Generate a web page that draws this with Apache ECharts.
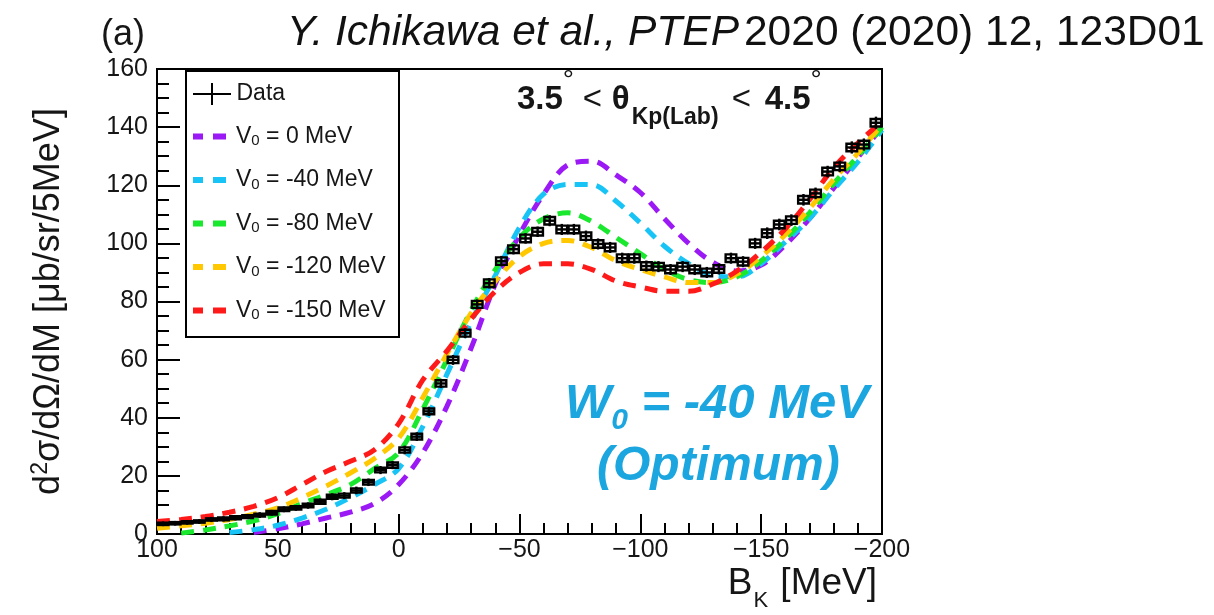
<!DOCTYPE html>
<html>
<head>
<meta charset="utf-8">
<script src="https://cdn.jsdelivr.net/npm/echarts@6/dist/echarts.min.js"></script>
<style>
html, body { margin: 0; padding: 0; background: #fff; }
#chart { width: 1214px; height: 615px; }
</style>
</head>
<body>
<div id="chart"></div>
<script>
// Measured spectrum: 5 MeV bins of the binding energy B_K
const binB = [97.5, 92.5, 87.5, 82.5, 77.5, 72.5, 67.5, 62.5, 57.5, 52.5,
  47.5, 42.5, 37.5, 32.5, 27.5, 22.5, 17.5, 12.5, 7.5, 2.5,
  -2.5, -7.5, -12.5, -17.5, -22.5, -27.5, -32.5, -37.5, -42.5, -47.5,
  -52.5, -57.5, -62.5, -67.5, -72.5, -77.5, -82.5, -87.5, -92.5, -97.5,
  -102.5, -107.5, -112.5, -117.5, -122.5, -127.5, -132.5, -137.5, -142.5, -147.5,
  -152.5, -157.5, -162.5, -167.5, -172.5, -177.5, -182.5, -187.5, -192.5, -197.5];
const measured = [3.5, 3.7, 4.0, 4.3, 5.0, 5.2, 5.6, 6.0, 6.5, 7.3,
  8.5, 9.0, 9.8, 11.1, 12.8, 13.2, 15.0, 17.8, 22.0, 23.7,
  28.9, 33.5, 42.2, 51.8, 59.9, 69.1, 79.0, 86.3, 93.9, 98.0,
  101.7, 104.0, 107.8, 104.8, 104.8, 102.5, 99.8, 98.6, 94.9, 94.9,
  92.2, 92.0, 91.0, 92.0, 91.0, 90.0, 91.2, 94.9, 93.7, 100.0,
  103.5, 106.5, 108.0, 115.0, 117.2, 124.7, 126.5, 133.0, 134.0, 141.5];
const statErr = [0.8, 0.8, 0.8, 0.8, 0.9, 0.9, 0.9, 0.9, 1.0, 1.0,
  1.0, 1.0, 1.1, 1.1, 1.2, 1.2, 1.3, 1.3, 1.4, 1.4,
  1.5, 1.5, 1.6, 1.6, 1.7, 1.7, 1.7, 1.8, 1.8, 1.8,
  1.8, 1.8, 1.9, 1.9, 1.9, 1.9, 1.9, 1.9, 1.9, 1.9,
  1.9, 1.9, 1.9, 1.9, 1.9, 1.9, 1.9, 1.9, 1.9, 1.9,
  2.0, 2.0, 2.0, 2.0, 2.0, 2.0, 2.0, 2.1, 2.1, 2.1];
const sysErr = [0.4, 0.4, 0.4, 0.4, 0.4, 0.5, 0.5, 0.5, 0.5, 0.6,
  0.6, 0.6, 0.6, 0.7, 0.7, 0.7, 0.7, 0.8, 0.8, 0.9,
  0.9, 1.0, 1.0, 1.1, 1.1, 1.2, 1.2, 1.3, 1.3, 1.3,
  1.3, 1.3, 1.3, 1.3, 1.3, 1.3, 1.3, 1.3, 1.3, 1.3,
  1.3, 1.3, 1.3, 1.3, 1.3, 1.3, 1.3, 1.3, 1.3, 1.3,
  1.3, 1.3, 1.3, 1.3, 1.3, 1.3, 1.3, 1.3, 1.3, 1.3];

// Calculated spectra for several real potential depths V0
// (null where a spectrum has not yet risen above the axis)
const calcB = [100, 90, 80, 70, 60, 50, 40, 30, 20, 10, 0,
  -10, -20, -30, -40, -50, -60, -70, -80, -90, -100,
  -110, -120, -130, -140, -150, -160, -170, -180, -190, -200];
const specV0m0 = [null, null, null, null, 0.5, 1.8, 3.5, 5.5, 7.5, 10.5, 17,
  28, 44, 64, 86, 103, 117, 127, 128.3, 123.5, 117.5,
  108.5, 100, 93.5, 90.5, 92.5, 99.5, 108.5, 119, 129.5, 140];
const specV0m40 = [null, null, null, 0.5, 1.5, 3.0, 5.5, 8.5, 12.5, 17, 22.5,
  37, 55, 73, 89, 105.5, 117, 120.3, 120.2, 114.5, 107,
  99, 93, 89, 88.5, 93, 100.5, 108.5, 118.5, 128, 139];
const specV0m80 = [null, 0.3, 1.4, 2.8, 4.5, 7.0, 10.5, 13.5, 17, 22.5, 28,
  43, 60, 77, 91, 102, 108.5, 110.5, 107.5, 102, 96.5,
  91, 87.5, 86.5, 88.5, 94, 101.5, 110.5, 120.5, 130, 140];
const specV0m120 = [2.0, 2.8, 3.7, 5.0, 6.8, 9.0, 12.5, 16.5, 21, 26, 33,
  47, 62, 76, 87, 95.5, 100, 101, 98.5, 94, 91,
  88.5, 86.5, 86.5, 89.5, 95.5, 103, 112, 122, 131, 141];
const specV0m150 = [4.3, 5.0, 6.0, 7.5, 9.5, 12.5, 17, 21.5, 25, 29, 38,
  53, 63, 74, 83.5, 90, 93, 93, 91, 87, 85,
  83.5, 83.5, 86, 90.5, 97, 105, 115, 126, 134.5, 142];

const curveNames = ['V0 = 0 MeV', 'V0 = -40 MeV', 'V0 = -80 MeV', 'V0 = -120 MeV', 'V0 = -150 MeV'];
const curveValues = [specV0m0, specV0m40, specV0m80, specV0m120, specV0m150];
const curveColors = ['#9b19f5', '#18c4f5', '#1ae82e', '#ffc800', '#ff1a1a'];

const FONT = 'Liberation Sans';
const INK = '#161616';

const dataPoints = binB.map((b, i) => [b, measured[i], statErr[i], sysErr[i]]);

const lineSeries = curveNames.map((name, k) => ({
  name: name,
  type: 'line',
  data: calcB.map((b, i) => [b, curveValues[k][i]]),
  smooth: 0.35,
  connectNulls: false,
  symbol: 'none',
  showSymbol: false,
  clip: true,
  silent: true,
  z: 2,
  itemStyle: { color: curveColors[k] },
  lineStyle: { color: curveColors[k], width: 5, type: [13, 9], cap: 'butt' }
}));

// Data points: horizontal bin bar, vertical statistical bar, open systematic box
const dataSeries = {
  name: 'Data',
  type: 'custom',
  data: dataPoints,
  encode: { x: 0, y: 1 },
  clip: true,
  z: 5,
  silent: true,
  itemStyle: { color: '#000' },
  renderItem: function (params, api) {
    const b = api.value(0), v = api.value(1), st = api.value(2), sy = api.value(3);
    const c = api.coord([b, v]);
    const xl = api.coord([b + 2.5, v])[0];
    const xr = api.coord([b - 2.5, v])[0];
    const yt = api.coord([b, v + st])[1];
    const yb = api.coord([b, v - st])[1];
    const bx1 = api.coord([b + 2.2, v + sy]);
    const bx2 = api.coord([b - 2.2, v - sy]);
    const stroke = { stroke: '#000', lineWidth: 2.4, fill: null };
    return {
      type: 'group',
      children: [
        { type: 'rect', shape: { x: Math.min(bx1[0], bx2[0]), y: bx1[1], width: Math.abs(bx2[0] - bx1[0]), height: bx2[1] - bx1[1] }, style: { stroke: '#000', lineWidth: 2.4, fill: 'rgba(0,0,0,0)' } },
        { type: 'line', shape: { x1: Math.min(xl, xr), y1: c[1], x2: Math.max(xl, xr), y2: c[1] }, style: stroke },
        { type: 'line', shape: { x1: c[0], y1: yt, x2: c[0], y2: yb }, style: stroke }
      ]
    };
  }
};

const legendRich = {
  v: { fontSize: 23, fontFamily: FONT, color: INK, lineHeight: 24 },
  s: { fontSize: 15, fontFamily: FONT, color: INK, lineHeight: 10, verticalAlign: 'bottom' },
  t: { fontSize: 23, fontFamily: FONT, color: INK, lineHeight: 24 },
  p: { width: 5 }
};

const chart = echarts.init(document.getElementById('chart'), null, { renderer: 'canvas' });
chart.setOption({
  animation: false,
  backgroundColor: '#fff',
  title: [
    { text: '(a)', left: 101, top: 17, padding: 0,
      textStyle: { fontFamily: FONT, fontSize: 36, fontWeight: 'normal', color: INK } },
    { text: '{i|Y. Ichikawa et al., PTEP} {n|2020 (2020) 12, 123D01}', left: 287, top: 12, padding: 0,
      textStyle: { fontWeight: 'normal', rich: {
        i: { fontFamily: FONT, fontSize: 42.5, fontStyle: 'italic', fontWeight: 'normal', color: '#111' },
        n: { fontFamily: FONT, fontSize: 42.5, fontWeight: 'normal', color: '#111' } } } },
    { text: '{n|3.5}{d|°}{l|<}{n|θ}{s|Kp(Lab)}{m|<}{n|4.5}{d|°}', left: 517, top: 64, padding: 0,
      textStyle: { fontWeight: 'normal', rich: {
        n: { fontFamily: FONT, fontSize: 33, fontWeight: 'bold', color: INK, lineHeight: 33, verticalAlign: 'top', padding: [19, 0, 0, 0] },
        d: { fontFamily: FONT, fontSize: 28, fontWeight: 'normal', color: INK, lineHeight: 28, verticalAlign: 'top', padding: [3, 0, 0, 0], width: 20 },
        l: { fontFamily: FONT, fontSize: 33, fontWeight: 'normal', color: INK, lineHeight: 33, verticalAlign: 'top', padding: [19, 0, 0, 0], width: 29 },
        m: { fontFamily: FONT, fontSize: 33, fontWeight: 'normal', color: INK, lineHeight: 33, verticalAlign: 'top', padding: [19, 0, 0, 0], width: 33 },
        s: { fontFamily: FONT, fontSize: 23, fontWeight: 'bold', color: INK, lineHeight: 23, verticalAlign: 'top', padding: [42, 0, 0, 2], width: 100 } } } },
    { text: '{w|W}{s|0}{w| = -40 MeV}', left: 565, top: 380, padding: 0,
      textStyle: { rich: {
        w: { fontFamily: FONT, fontSize: 49, fontWeight: 'bold', fontStyle: 'italic', color: '#1ba6e0', lineHeight: 50, verticalAlign: 'top' },
        s: { fontFamily: FONT, fontSize: 30, fontWeight: 'bold', fontStyle: 'italic', color: '#1ba6e0', lineHeight: 30, verticalAlign: 'top', padding: [26, 0, 0, 0] } } } },
    { text: '(Optimum)', left: 597, top: 443, padding: 0,
      textStyle: { fontFamily: FONT, fontSize: 48, fontWeight: 'bold', fontStyle: 'italic', color: '#1ba6e0' } },
    { text: '{a|B}{s|K}{a| [MeV]}', right: 337, top: 565, padding: 0,
      textStyle: { fontWeight: 'normal', rich: {
        a: { fontFamily: FONT, fontSize: 37, fontWeight: 'normal', color: INK, lineHeight: 38, verticalAlign: 'top' },
        s: { fontFamily: FONT, fontSize: 22, fontWeight: 'normal', color: INK, lineHeight: 22, verticalAlign: 'top', padding: [25, 2, 0, 1] } } } }
  ],
  grid: { left: 157, right: 332, top: 69, bottom: 81, show: true, borderColor: '#000', borderWidth: 2 },
  legend: [
    { data: [{ name: 'Data', icon: 'path://M0,10h38v2h-38z M18,0h2v22h-2z' }],
      left: 193, top: 82, padding: 0, itemWidth: 39, itemHeight: 22,
      itemStyle: { color: '#000' },
      textStyle: { fontFamily: FONT, fontSize: 23, color: INK, lineHeight: 24 },
      selectedMode: false },
    { data: curveNames.map(n => ({ name: n, icon: 'path://M0,0h10v6h-10z M20,0h13v6h-13z' })),
      orient: 'vertical', left: 193, top: 125, padding: 0, itemWidth: 33, itemHeight: 6, itemGap: 20,
      selectedMode: false,
      formatter: function (name) {
        const rest = name.replace('V0 = ', '');
        return '{p|}{v|V}{s|0}{t| = ' + rest + '}';
      },
      textStyle: { rich: legendRich } }
  ],
  graphic: [
    { type: 'rect', left: 185, top: 70, z: 10, silent: true,
      shape: { width: 213, height: 266 },
      style: { fill: 'rgba(0,0,0,0)', stroke: '#000', lineWidth: 2 } }
  ],
  xAxis: {
    type: 'value', inverse: true, min: -200, max: 100, interval: 50,
    axisLine: { show: true, onZero: false, lineStyle: { color: '#000', width: 2 } },
    axisTick: { show: true, inside: true, length: 20, lineStyle: { color: '#000', width: 2 } },
    minorTick: { show: true, splitNumber: 5, length: 11, lineStyle: { color: '#000', width: 2 } },
    splitLine: { show: false },
    axisLabel: { fontFamily: FONT, fontSize: 25, color: INK, margin: 4,
      formatter: v => (v < 0 ? '\u2212' + Math.abs(v) : String(v)) }
  },
  yAxis: {
    type: 'value', min: 0, max: 160, interval: 20,
    axisLine: { show: true, onZero: false, lineStyle: { color: '#000', width: 2 } },
    axisTick: { show: true, inside: true, length: 23, lineStyle: { color: '#000', width: 2 } },
    minorTick: { show: true, splitNumber: 4, length: 12, lineStyle: { color: '#000', width: 2 } },
    splitLine: { show: false },
    axisLabel: { fontFamily: FONT, fontSize: 25, color: INK, margin: 9 },
    name: '{a|d}{u|2}{a|σ/dΩ/dM [μb/sr/5MeV]}',
    nameLocation: 'middle', nameRotate: 90, nameGap: 90,
    nameTextStyle: { rich: {
      a: { fontFamily: FONT, fontSize: 36, color: INK, lineHeight: 38, verticalAlign: 'bottom' },
      u: { fontFamily: FONT, fontSize: 23, color: INK, lineHeight: 23, verticalAlign: 'top' } } }
  },
  series: lineSeries.concat([dataSeries])
});
</script>
</body>
</html>
